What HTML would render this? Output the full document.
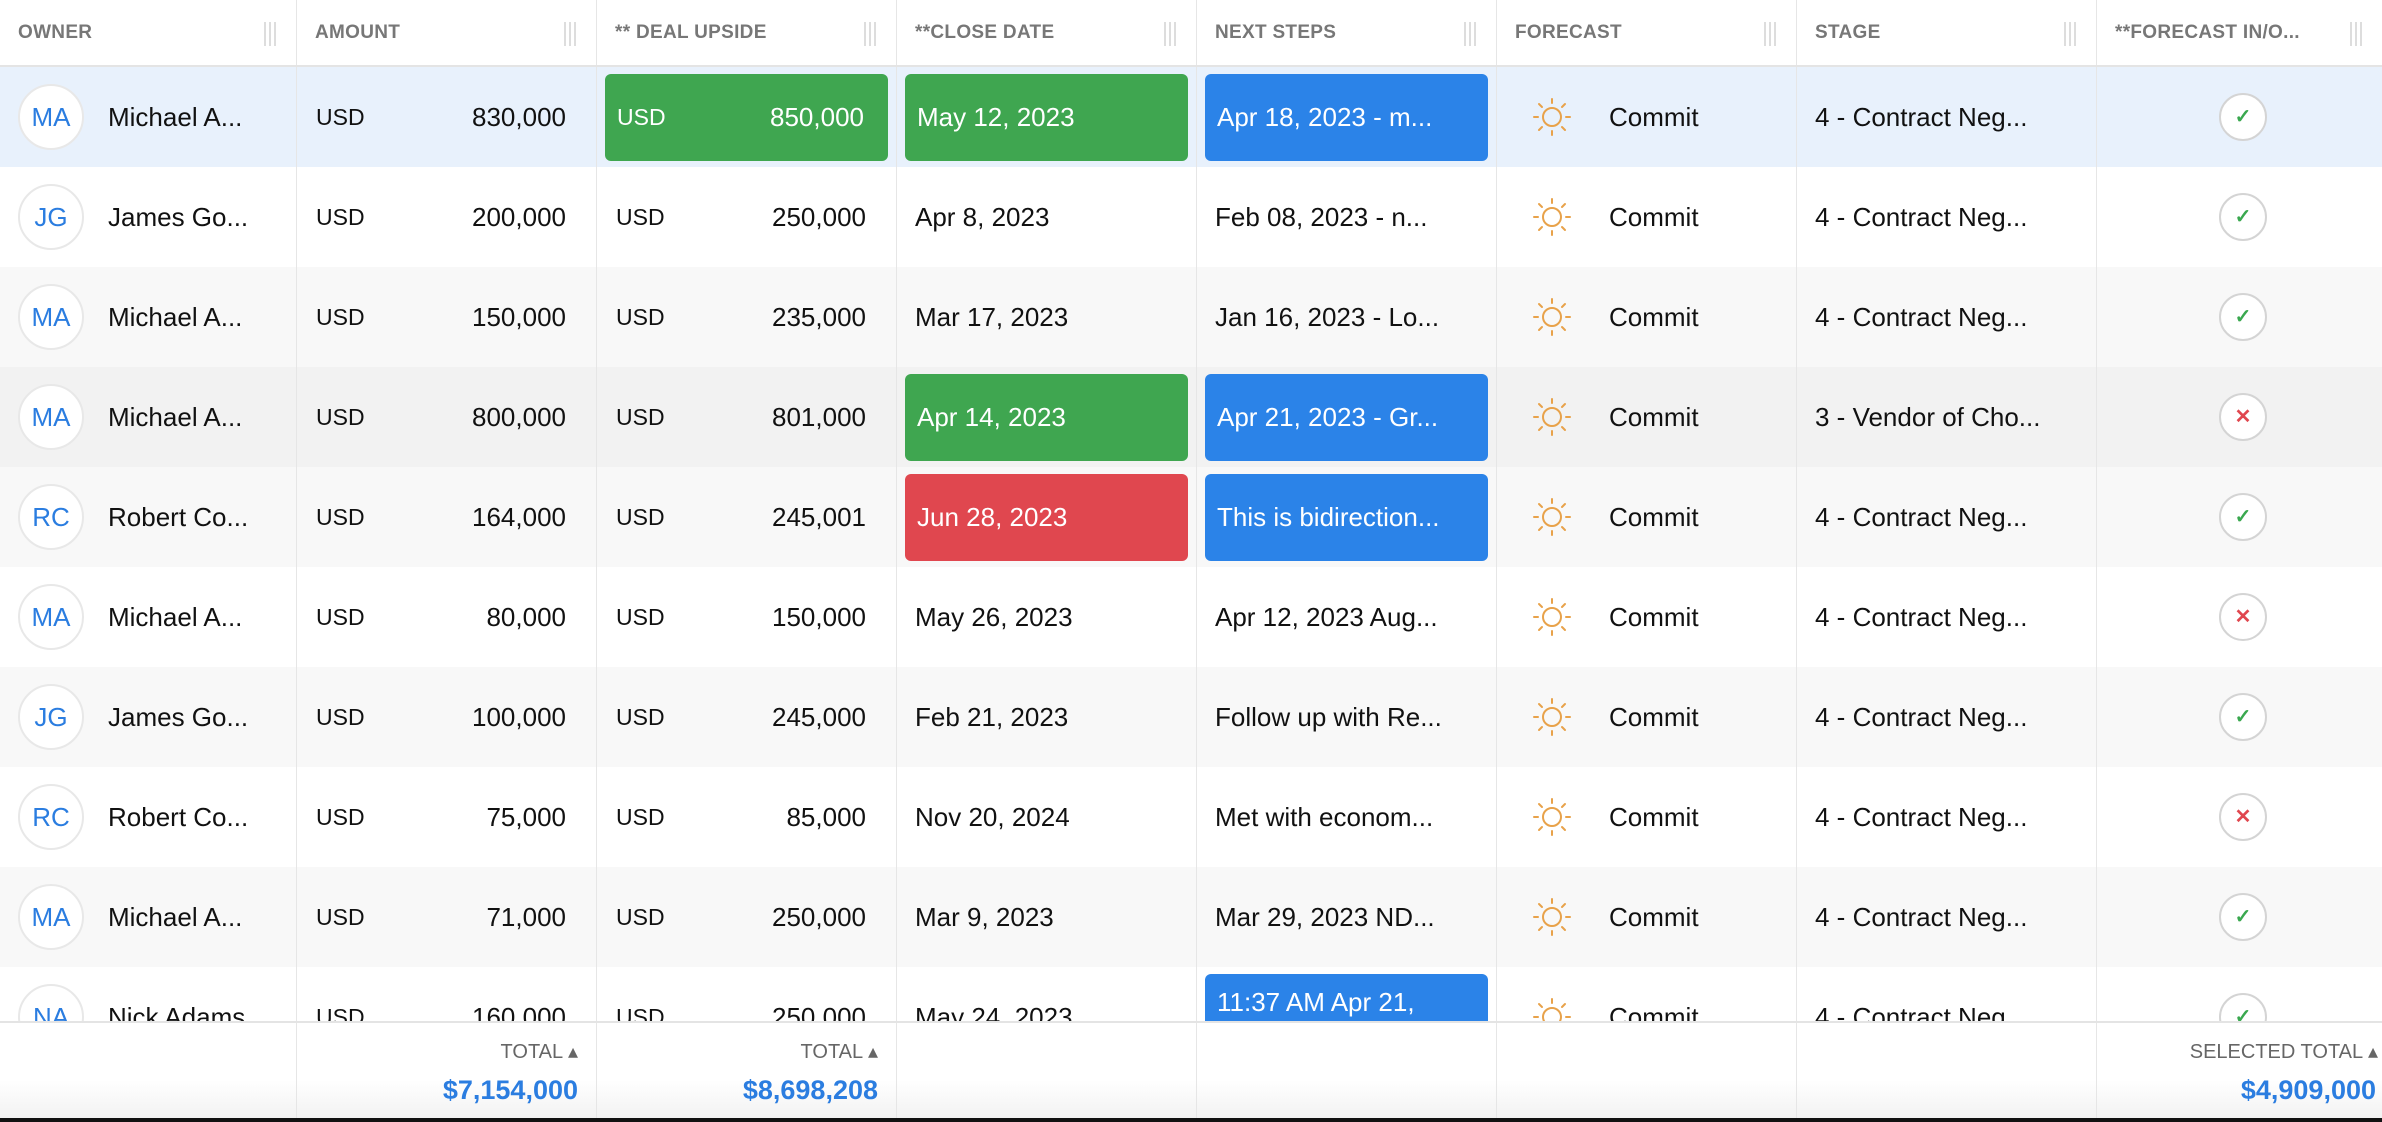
<!DOCTYPE html>
<html><head><meta charset="utf-8"><style>
*{box-sizing:border-box;margin:0;padding:0}
body{width:2382px;height:1122px;overflow:hidden;background:#fff;font-family:"Liberation Sans",Arial,sans-serif;color:#111;position:relative}
.hdr{position:absolute;left:0;top:0;height:67px;width:2382px;border-bottom:2px solid #e4e4e4;display:flex}
.hdr div{position:relative;height:65px;border-right:1px solid #e6e6e6;font-size:19px;font-weight:bold;color:#777;padding-left:18px;line-height:66px;letter-spacing:0.3px;white-space:nowrap;overflow:hidden}
.hdr div span.g{position:absolute;right:20px;top:22px;width:12px;height:24px;border-left:2px solid #ddd;border-right:2px solid #ddd}
.hdr div span.g:after{content:"";position:absolute;left:3px;top:0;height:24px;border-left:2px solid #ddd}
.body{position:absolute;left:0;top:67px;width:2382px;height:954px;overflow:hidden}
.row{display:flex;height:100px;position:relative}
.row.sel{background:#e8f1fc}
.row.alt{background:#f8f8f8}
.row.alt2{background:#f2f2f2}
.c{position:relative;height:100px;border-right:1px solid #e6e6e6;font-size:26px;line-height:100px;white-space:nowrap}
.w0{width:297px}.w1{width:300px}.w7{width:285px;border-right:none}
.av{position:absolute;left:18px;top:17px;width:66px;height:66px;border-radius:50%;background:#fff;border:2px solid #e8e8e8;color:#2b7de0;font-size:26px;text-align:center;line-height:62px}
.nm{position:absolute;left:108px}
.usd{position:absolute;left:19px;font-size:23px}
.num{position:absolute;right:30px}
.box{position:absolute;left:8px;right:8px;top:7px;bottom:6px;border-radius:6px;color:#fff;line-height:87px}
.g1{background:#3fa650}.r1{background:#e0474f}.b1{background:#2b83e8}
.box .usd{left:12px}.box .num{right:24px}
.tx{position:absolute;left:18px}
.box .tx{left:12px}
.sun{position:absolute;left:36px;top:31px}
.cm{position:absolute;left:112px}
.ck{position:absolute;left:122px;top:26px;width:48px;height:48px;border-radius:50%;border:2px solid #d4d4d4;background:#fff;text-align:center;line-height:44px;font-size:20px;font-weight:bold}
.ok{color:#3aa84f}.no{color:#e0474f}
.ftr{position:absolute;left:0;top:1021px;width:2382px;height:97px;border-top:2px solid #e4e4e4;display:flex;background:linear-gradient(#fff 60%,#f2f2f2)}
.ftr div{position:relative;height:95px;border-right:1px solid #e6e6e6}
.tl{position:absolute;right:18px;top:16px;font-size:20px;color:#666;white-space:nowrap}
.tv{position:absolute;right:18px;top:52px;font-size:27px;font-weight:bold;color:#2b7de0}
.blk{position:absolute;left:0;top:1118px;width:2382px;height:4px;background:#111}
</style></head><body>
<div class="hdr">
<div class="w0">OWNER<span class="g"></span></div>
<div class="w1">AMOUNT<span class="g"></span></div>
<div class="w1">** DEAL UPSIDE<span class="g"></span></div>
<div class="w1">**CLOSE DATE<span class="g"></span></div>
<div class="w1">NEXT STEPS<span class="g"></span></div>
<div class="w1">FORECAST<span class="g"></span></div>
<div class="w1">STAGE<span class="g"></span></div>
<div class="w7" style="border-right:none">**FORECAST IN/O...<span class="g"></span></div>
</div>
<svg width="0" height="0" style="position:absolute"><defs><g id="sun" stroke="#e8a24a" stroke-width="2" fill="none" stroke-linecap="round"><circle cx="19" cy="19" r="9"/><line x1="19" y1="1" x2="19" y2="5"/><line x1="19" y1="33" x2="19" y2="37"/><line x1="1" y1="19" x2="5" y2="19"/><line x1="33" y1="19" x2="37" y2="19"/><line x1="6" y1="6" x2="9" y2="9"/><line x1="32" y1="6" x2="29" y2="9"/><line x1="6" y1="32" x2="9" y2="29"/><line x1="32" y1="32" x2="29" y2="29"/></g></defs></svg>
<div class="body">
<div class="row sel"><div class="c w0"><div class="av">MA</div><span class="nm">Michael A...</span></div><div class="c w1"><span class="usd">USD</span><span class="num">830,000</span></div><div class="c w1"><div class="box g1"><span class="usd">USD</span><span class="num">850,000</span></div></div><div class="c w1"><div class="box g1"><span class="tx">May 12, 2023</span></div></div><div class="c w1"><div class="box b1"><span class="tx">Apr 18, 2023 - m...</span></div></div><div class="c w1"><svg class="sun" width="38" height="38"><use href="#sun"/></svg><span class="cm">Commit</span></div><div class="c w1"><span class="tx">4 - Contract Neg...</span></div><div class="c w7"><div class="ck ok">✓</div></div></div>
<div class="row"><div class="c w0"><div class="av">JG</div><span class="nm">James Go...</span></div><div class="c w1"><span class="usd">USD</span><span class="num">200,000</span></div><div class="c w1"><span class="usd">USD</span><span class="num">250,000</span></div><div class="c w1"><span class="tx">Apr 8, 2023</span></div><div class="c w1"><span class="tx">Feb 08, 2023 - n...</span></div><div class="c w1"><svg class="sun" width="38" height="38"><use href="#sun"/></svg><span class="cm">Commit</span></div><div class="c w1"><span class="tx">4 - Contract Neg...</span></div><div class="c w7"><div class="ck ok">✓</div></div></div>
<div class="row alt"><div class="c w0"><div class="av">MA</div><span class="nm">Michael A...</span></div><div class="c w1"><span class="usd">USD</span><span class="num">150,000</span></div><div class="c w1"><span class="usd">USD</span><span class="num">235,000</span></div><div class="c w1"><span class="tx">Mar 17, 2023</span></div><div class="c w1"><span class="tx">Jan 16, 2023 - Lo...</span></div><div class="c w1"><svg class="sun" width="38" height="38"><use href="#sun"/></svg><span class="cm">Commit</span></div><div class="c w1"><span class="tx">4 - Contract Neg...</span></div><div class="c w7"><div class="ck ok">✓</div></div></div>
<div class="row alt2"><div class="c w0"><div class="av">MA</div><span class="nm">Michael A...</span></div><div class="c w1"><span class="usd">USD</span><span class="num">800,000</span></div><div class="c w1"><span class="usd">USD</span><span class="num">801,000</span></div><div class="c w1"><div class="box g1"><span class="tx">Apr 14, 2023</span></div></div><div class="c w1"><div class="box b1"><span class="tx">Apr 21, 2023 - Gr...</span></div></div><div class="c w1"><svg class="sun" width="38" height="38"><use href="#sun"/></svg><span class="cm">Commit</span></div><div class="c w1"><span class="tx">3 - Vendor of Cho...</span></div><div class="c w7"><div class="ck no">✕</div></div></div>
<div class="row alt"><div class="c w0"><div class="av">RC</div><span class="nm">Robert Co...</span></div><div class="c w1"><span class="usd">USD</span><span class="num">164,000</span></div><div class="c w1"><span class="usd">USD</span><span class="num">245,001</span></div><div class="c w1"><div class="box r1"><span class="tx">Jun 28, 2023</span></div></div><div class="c w1"><div class="box b1"><span class="tx">This is bidirection...</span></div></div><div class="c w1"><svg class="sun" width="38" height="38"><use href="#sun"/></svg><span class="cm">Commit</span></div><div class="c w1"><span class="tx">4 - Contract Neg...</span></div><div class="c w7"><div class="ck ok">✓</div></div></div>
<div class="row"><div class="c w0"><div class="av">MA</div><span class="nm">Michael A...</span></div><div class="c w1"><span class="usd">USD</span><span class="num">80,000</span></div><div class="c w1"><span class="usd">USD</span><span class="num">150,000</span></div><div class="c w1"><span class="tx">May 26, 2023</span></div><div class="c w1"><span class="tx">Apr 12, 2023 Aug...</span></div><div class="c w1"><svg class="sun" width="38" height="38"><use href="#sun"/></svg><span class="cm">Commit</span></div><div class="c w1"><span class="tx">4 - Contract Neg...</span></div><div class="c w7"><div class="ck no">✕</div></div></div>
<div class="row alt"><div class="c w0"><div class="av">JG</div><span class="nm">James Go...</span></div><div class="c w1"><span class="usd">USD</span><span class="num">100,000</span></div><div class="c w1"><span class="usd">USD</span><span class="num">245,000</span></div><div class="c w1"><span class="tx">Feb 21, 2023</span></div><div class="c w1"><span class="tx">Follow up with Re...</span></div><div class="c w1"><svg class="sun" width="38" height="38"><use href="#sun"/></svg><span class="cm">Commit</span></div><div class="c w1"><span class="tx">4 - Contract Neg...</span></div><div class="c w7"><div class="ck ok">✓</div></div></div>
<div class="row"><div class="c w0"><div class="av">RC</div><span class="nm">Robert Co...</span></div><div class="c w1"><span class="usd">USD</span><span class="num">75,000</span></div><div class="c w1"><span class="usd">USD</span><span class="num">85,000</span></div><div class="c w1"><span class="tx">Nov 20, 2024</span></div><div class="c w1"><span class="tx">Met with econom...</span></div><div class="c w1"><svg class="sun" width="38" height="38"><use href="#sun"/></svg><span class="cm">Commit</span></div><div class="c w1"><span class="tx">4 - Contract Neg...</span></div><div class="c w7"><div class="ck no">✕</div></div></div>
<div class="row alt"><div class="c w0"><div class="av">MA</div><span class="nm">Michael A...</span></div><div class="c w1"><span class="usd">USD</span><span class="num">71,000</span></div><div class="c w1"><span class="usd">USD</span><span class="num">250,000</span></div><div class="c w1"><span class="tx">Mar 9, 2023</span></div><div class="c w1"><span class="tx">Mar 29, 2023 ND...</span></div><div class="c w1"><svg class="sun" width="38" height="38"><use href="#sun"/></svg><span class="cm">Commit</span></div><div class="c w1"><span class="tx">4 - Contract Neg...</span></div><div class="c w7"><div class="ck ok">✓</div></div></div>
<div class="row"><div class="c w0"><div class="av">NA</div><span class="nm">Nick Adams</span></div><div class="c w1"><span class="usd">USD</span><span class="num">160,000</span></div><div class="c w1"><span class="usd">USD</span><span class="num">250,000</span></div><div class="c w1"><span class="tx">May 24, 2023</span></div><div class="c w1"><div class="box b1" style="line-height:32px;padding-top:12px"><span class="tx">11:37 AM Apr 21,</span></div></div><div class="c w1"><svg class="sun" width="38" height="38"><use href="#sun"/></svg><span class="cm">Commit</span></div><div class="c w1"><span class="tx">4 - Contract Neg...</span></div><div class="c w7"><div class="ck ok">✓</div></div></div>
</div>
<div class="ftr">
<div class="w0"></div>
<div class="w1"><span class="tl">TOTAL ▴</span><span class="tv">$7,154,000</span></div>
<div class="w1"><span class="tl">TOTAL ▴</span><span class="tv">$8,698,208</span></div>
<div class="w1"></div><div class="w1"></div><div class="w1"></div><div class="w1"></div>
<div class="w7" style="border-right:none"><span class="tl" style="right:4px">SELECTED TOTAL ▴</span><span class="tv" style="right:6px">$4,909,000</span></div>
</div>
<div class="blk"></div>
</body></html>
